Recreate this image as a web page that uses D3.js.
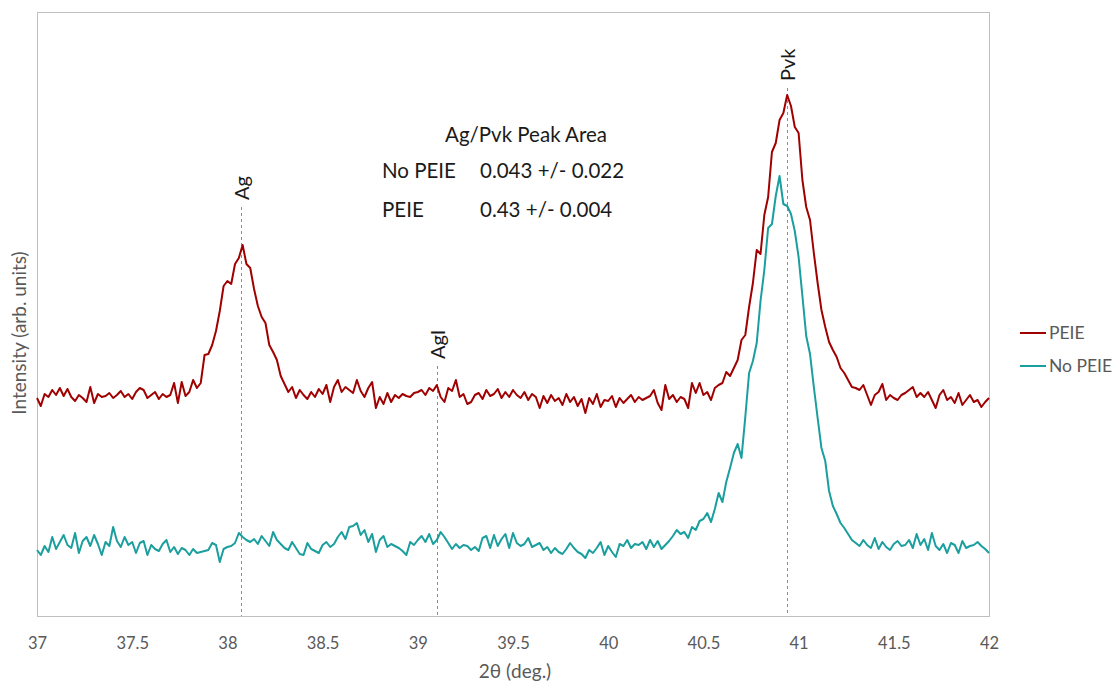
<!DOCTYPE html>
<html>
<head>
<meta charset="utf-8">
<script src="https://cdn.jsdelivr.net/npm/d3@7"></script>
<style>
  html, body { margin: 0; padding: 0; background: #fff; }
  svg { display: block; }
  text { font-family: Lato, "Open Sans", sans-serif; }
</style>
</head>
<body>
<svg id="chart" width="1116" height="683"></svg>
<script>
// ---- data ----
const xStart = 37.0;          // first 2θ sample (deg.)
const xStep = 0.02;           // sampling step (deg.)
const xTicks = [37, 37.5, 38, 38.5, 39, 39.5, 40, 40.5, 41, 41.5, 42];
const seriesNames = ["PEIE", "No PEIE"];

const peieIntensity = [
  218, 210, 222, 219, 226, 221, 228, 220, 227, 219,
  215, 221, 218, 214, 229, 213, 222, 219, 220, 223,
  218, 221, 225, 219, 222, 217, 224, 228, 226, 218,
  221, 224, 217, 222, 219, 221, 233, 213, 234, 220,
  224, 236, 228, 233, 261, 262, 271, 285, 305, 330,
  335, 332, 352, 358, 371, 352, 348, 327, 310, 299,
  293, 271, 264, 256, 240, 232, 224, 229, 218, 226,
  221, 217, 224, 219, 227, 222, 231, 214, 229, 236,
  224, 229, 226, 223, 236, 225, 219, 228, 234, 208,
  219, 212, 223, 214, 221, 218, 222, 220, 219, 223,
  224, 226, 221, 228, 225, 231, 219, 214, 228, 225,
  236, 219, 222, 212, 214, 221, 223, 217, 226, 220,
  222, 227, 218, 224, 219, 226, 221, 218, 224, 216,
  222, 219, 208, 220, 213, 221, 215, 218, 211, 222,
  214, 219, 210, 217, 203, 218, 212, 222, 209, 216,
  215, 220, 209, 218, 213, 217, 221, 214, 219, 216,
  218, 220, 226, 213, 206, 231, 217, 221, 214, 219,
  217, 208, 233, 223, 233, 221, 224, 216, 228, 231,
  233, 244, 240, 248, 256, 276, 281, 309, 333, 366,
  362, 401, 419, 464, 473, 496, 503, 521, 510, 489,
  483, 436, 409, 396, 363, 333, 306, 289, 274, 266,
  259, 248, 243, 236, 229, 228, 226, 231, 221, 211,
  221, 224, 232, 216, 221, 218, 216, 221, 223, 226,
  229, 219, 223, 219, 224, 216, 208, 221, 226, 216,
  219, 213, 223, 211, 216, 221, 214, 216, 209, 214,
  218
];

const noPeieIntensity = [
  66, 61, 70, 64, 79, 67, 74, 81, 71, 68,
  83, 63, 75, 79, 70, 81, 72, 61, 74, 70,
  89, 75, 69, 79, 71, 74, 63, 73, 75, 61,
  71, 67, 65, 72, 76, 64, 69, 62, 68, 66,
  61, 67, 63, 64, 65, 66, 73, 71, 54, 67,
  69, 70, 73, 83, 79, 76, 74, 77, 72, 80,
  75, 70, 84, 76, 72, 68, 66, 74, 68, 62,
  61, 73, 67, 65, 63, 71, 74, 69, 72, 79,
  84, 77, 89, 90, 93, 81, 86, 74, 82, 64,
  76, 80, 69, 72, 70, 68, 65, 61, 74, 71,
  76, 80, 74, 82, 72, 76, 84, 79, 73, 67,
  72, 68, 71, 70, 66, 69, 65, 78, 80, 68,
  81, 70, 77, 82, 68, 83, 73, 70, 72, 78,
  69, 71, 73, 66, 69, 63, 68, 64, 62, 67,
  73, 68, 64, 62, 58, 66, 63, 68, 74, 61,
  70, 64, 59, 72, 70, 76, 68, 72, 71, 74,
  67, 76, 69, 75, 67, 71, 75, 80, 86, 82,
  84, 78, 89, 86, 95, 97, 103, 94, 107, 123,
  114, 134, 148, 163, 172, 158, 199, 243, 255, 273,
  315, 346, 388, 392, 420, 440, 412, 410, 402, 385,
  359, 320, 280, 262, 229, 198, 168, 155, 125, 110,
  102, 93, 88, 82, 76, 73, 70, 76, 71, 68,
  78, 67, 74, 69, 66, 72, 75, 70, 71, 76,
  68, 82, 71, 77, 66, 83, 70, 66, 72, 63,
  73, 71, 63, 75, 68, 70, 71, 74, 70, 67,
  63
];

// reference peak markers: label, 2θ position, top of dashed guide (intensity units)
const markerLabels = ["Ag", "AgI", "Pvk"];
const markerX = [38.07, 39.1, 40.94];
const markerTop = [409, 250, 528];

// inset table
const tableTitle = "Ag/Pvk Peak Area";
const tableRows = ["No PEIE", "PEIE"];
const tableValues = ["0.043 +/- 0.022", "0.43 +/- 0.004"];

// ---- drawing ----
const plot = { left: 37, right: 989, top: 12, bottom: 616 };
const colors = { "PEIE": "#a00000", "No PEIE": "#1a9e9e" };

const svg = d3.select("#chart");

const x = d3.scaleLinear().domain([37, 42]).range([plot.left, plot.right]);
const y = d3.scaleLinear().domain([0, 604]).range([plot.bottom, plot.top]);

const toPoints = arr => arr.map((v, i) => ({ x: xStart + i * xStep, y: v }));
const series = [
  { name: "PEIE", values: toPoints(peieIntensity) },
  { name: "No PEIE", values: toPoints(noPeieIntensity) }
];

// plot border
svg.append("rect")
  .attr("x", plot.left + 0.5).attr("y", plot.top + 0.5)
  .attr("width", plot.right - plot.left).attr("height", plot.bottom - plot.top)
  .attr("fill", "none").attr("stroke", "#bfbfbf").attr("stroke-width", 1);

// x axis (labels only)
const xAxis = d3.axisBottom(x).tickValues(xTicks).tickSize(0).tickPadding(0)
  .tickFormat(d => String(d));
const gx = svg.append("g").attr("transform", `translate(0,${plot.bottom})`).call(xAxis);
gx.select(".domain").remove();
gx.selectAll("text")
  .attr("y", 0).attr("dy", 0)
  .attr("transform", "translate(0,33)")
  .attr("fill", "#595959").attr("font-size", 16.5)
  .style("font-family", "Lato, 'Open Sans', sans-serif");

// axis titles
svg.append("text")
  .attr("x", 515).attr("y", 678)
  .attr("text-anchor", "middle").attr("fill", "#595959").attr("font-size", 19)
  .text("2θ (deg.)");
svg.append("text")
  .attr("transform", `translate(26,333) rotate(-90)`)
  .attr("text-anchor", "middle").attr("fill", "#595959").attr("font-size", 19)
  .text("Intensity (arb. units)");

// dashed marker lines
const markers = markerLabels.map((l, i) => ({ label: l, x: markerX[i], top: markerTop[i] }));
svg.selectAll("line.marker").data(markers).enter().append("line")
  .attr("class", "marker")
  .attr("x1", d => Math.round(x(d.x)) + 0.5).attr("x2", d => Math.round(x(d.x)) + 0.5)
  .attr("y1", d => y(d.top)).attr("y2", plot.bottom)
  .attr("stroke", "#8c8c8c").attr("stroke-width", 1).attr("stroke-dasharray", "3,3");

// data lines
const line = d3.line().x(d => x(d.x)).y(d => y(d.y));
svg.selectAll("path.series").data(series).enter().append("path")
  .attr("class", "series")
  .attr("d", d => line(d.values))
  .attr("fill", "none")
  .attr("stroke", d => colors[d.name])
  .attr("stroke-width", 2)
  .attr("stroke-linejoin", "round");

// marker labels (rotated)
svg.selectAll("text.mlabel").data(markers).enter().append("text")
  .attr("class", "mlabel")
  .attr("transform", d => `translate(${Math.round(x(d.x)) + 0.5},${y(d.top) - 7}) rotate(-90)`)
  .attr("dy", "0.35em")
  .attr("fill", "#1a1a1a").attr("font-size", 20)
  .text(d => d.label);

// inset table
svg.append("text").attr("x", 445).attr("y", 142)
  .attr("fill", "#1a1a1a").attr("font-size", 20.5).text(tableTitle);
tableRows.forEach((r, i) => {
  svg.append("text").attr("x", 382).attr("y", 178 + i * 39)
    .attr("fill", "#1a1a1a").attr("font-size", 20.5).text(r);
  svg.append("text").attr("x", 480).attr("y", 178 + i * 39)
    .attr("fill", "#1a1a1a").attr("font-size", 20.5).text(tableValues[i]);
});

// legend
const lg = svg.append("g");
seriesNames.forEach((n, i) => {
  const yy = 333 + i * 33;
  lg.append("line").attr("x1", 1020).attr("x2", 1046).attr("y1", yy).attr("y2", yy)
    .attr("stroke", colors[n]).attr("stroke-width", 2);
  lg.append("text").attr("x", 1049).attr("y", yy + 6)
    .attr("fill", "#595959").attr("font-size", 17.5).text(n);
});
</script>
</body>
</html>
